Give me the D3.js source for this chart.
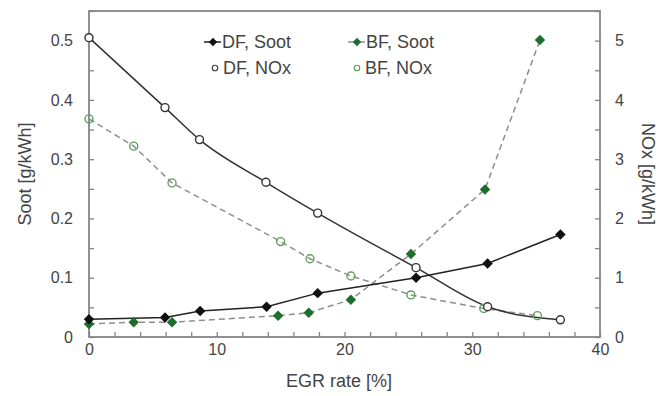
<!DOCTYPE html>
<html>
<head>
<meta charset="utf-8">
<script src="https://cdn.jsdelivr.net/npm/d3@7"></script>
<style>
body{margin:0;background:#fff;}
svg text{font-family:"Liberation Sans",Arial,sans-serif;fill:#444;}
</style>
</head>
<body>
<svg id=holder width="671" height="396"></svg>
<script>
// EGR rate [%] vs soot / NOx
var df_soot_x=[0,5.95,8.7,13.9,17.9,25.6,31.2,36.9];
var df_soot_y=[0.030,0.033,0.044,0.051,0.074,0.100,0.124,0.173];
var bf_soot_x=[0,3.5,6.5,14.8,17.2,20.5,25.2,31.0,35.3];
var bf_soot_y=[0.022,0.025,0.025,0.036,0.041,0.063,0.140,0.249,0.501];
var df_nox_x=[0,5.95,8.65,13.85,17.9,25.6,31.2,36.9];
var df_nox_y=[5.05,3.87,3.33,2.61,2.09,1.17,0.51,0.29];
var bf_nox_x=[0,3.5,6.5,15.0,17.3,20.5,25.2,30.9,35.1];
var bf_nox_y=[3.68,3.22,2.60,1.61,1.32,1.03,0.71,0.48,0.36];
var x_ticks=[0,10,20,30,40];
var soot_ticks=[0,0.1,0.2,0.3,0.4,0.5];
var nox_ticks=[0,1,2,3,4,5];

var padding_left=89, padding_right=71, padding_top=11, padding_bottom=59;
var width=671, height=396;
var axis_col='#858585';
var green_dark='#1e6e2e', green_light='#5fa05f', dash_col='#8e8e8e';

var svg=d3.select('#holder');
var xscale=d3.scaleLinear().domain([0,40]).range([padding_left,width-padding_right]);
var ysoot=d3.scaleLinear().domain([0,0.55]).range([height-padding_bottom,padding_top]);
var ynox=d3.scaleLinear().domain([0,5.5]).range([height-padding_bottom,padding_top]);

var gg=svg.append('g');

// frame
gg.append('rect')
    .attr('x',padding_left).attr('y',padding_top)
    .attr('width',width-padding_left-padding_right)
    .attr('height',height-padding_top-padding_bottom)
    .attr('fill','none').attr('stroke',axis_col).attr('stroke-width',1.8);

// minor ticks (inside) + labels
gg.append('g').attr('transform','translate(0,'+(height-padding_bottom)+')')
    .call(d3.axisTop(xscale).ticks(20).tickSize(5).tickFormat(''));
gg.append('g').attr('transform','translate(0,'+(height-padding_bottom)+')')
    .call(d3.axisBottom(xscale).tickValues(x_ticks).tickSize(0).tickPadding(7).tickFormat(d3.format('d')));
gg.append('g').attr('transform','translate('+padding_left+',0)')
    .call(d3.axisRight(ysoot).ticks(11).tickSize(5).tickFormat(''));
gg.append('g').attr('transform','translate('+padding_left+',0)')
    .call(d3.axisLeft(ysoot).tickValues(soot_ticks).tickSize(0).tickPadding(16).tickFormat(function(d){return d===0?'0':d3.format('.1f')(d);}));
gg.append('g').attr('transform','translate('+(width-padding_right)+',0)')
    .call(d3.axisLeft(ynox).ticks(11).tickSize(5).tickFormat(''));
gg.append('g').attr('transform','translate('+(width-padding_right)+',0)')
    .call(d3.axisRight(ynox).tickValues(nox_ticks).tickSize(0).tickPadding(15).tickFormat(d3.format('d')));

svg.selectAll('.domain').remove();
svg.selectAll('.tick line').attr('stroke',axis_col).attr('stroke-width',1.3);
svg.selectAll('.tick text').style('font-size','16px').attr('fill','#444');

// axis titles
gg.append('text').attr('x',339).attr('y',387)
    .attr('text-anchor','middle').style('font-size','18px').text('EGR rate [%]');
gg.append('text').attr('transform','translate(31,'+((padding_top+height-padding_bottom)/2)+') rotate(-90)')
    .attr('text-anchor','middle').style('font-size','18px').text('Soot [g/kWh]');
gg.append('text').attr('transform','translate(642,'+((padding_top+height-padding_bottom)/2)+') rotate(90)')
    .attr('text-anchor','middle').style('font-size','18px').text('NOx [g/kWh]');

function series(xs,ys){return xs.map(function(x,i){return {x:x,y:ys[i]};});}
var df_soot=series(df_soot_x,df_soot_y), bf_soot=series(bf_soot_x,bf_soot_y);
var df_nox=series(df_nox_x,df_nox_y), bf_nox=series(bf_nox_x,bf_nox_y);

function draw_line(data,yscale,stroke,dash,curve){
    var line=d3.line().x(function(d){return xscale(d.x);}).y(function(d){return yscale(d.y);}).curve(curve||d3.curveLinear);
    gg.append('path').attr('d',line(data)).attr('fill','none').attr('stroke',stroke)
        .attr('stroke-width',1.5).attr('stroke-dasharray',dash||null);
}
draw_line(bf_nox,ynox,dash_col,'6,4');
draw_line(bf_soot,ysoot,dash_col,'6,4');
draw_line(df_nox,ynox,'#333',null,d3.curveMonotoneX);
draw_line(df_soot,ysoot,'#222');

// diamond = square turned 45 degrees
var diamond=d3.symbol().type(d3.symbolSquare).size(36);
var circle=d3.symbol().type(d3.symbolCircle).size(50);
function draw_marks(data,yscale,sym,fill,stroke,rot){
    gg.append('g').selectAll('path').data(data).enter().append('path')
        .attr('d',sym)
        .attr('transform',function(d){return 'translate('+xscale(d.x)+','+yscale(d.y)+') rotate('+(rot||0)+')';})
        .attr('fill',fill).attr('stroke',stroke).attr('stroke-width',1.4);
}
draw_marks(bf_nox,ynox,circle,'none',green_light);
draw_marks(df_nox,ynox,circle,'#fff','#333');
draw_marks(bf_soot,ysoot,diamond,green_dark,green_dark,45);
draw_marks(df_soot,ysoot,diamond,'#111','#111',45);

// legend
var legend=[
    {label:'DF, Soot',x:213,y:42,dia:true,fill:'#111',stroke:'#111',line:'#222'},
    {label:'BF, Soot',x:357,y:42,dia:true,fill:green_dark,stroke:green_dark,line:dash_col},
    {label:'DF, NOx',x:215,y:68,dia:false,fill:'none',stroke:'#444',line:null},
    {label:'BF, NOx',x:357,y:68,dia:false,fill:'none',stroke:green_light,line:null}
];
var lg=gg.append('g');
legend.forEach(function(e){
    if(e.line) lg.append('line').attr('x1',e.x-9).attr('x2',e.x+8).attr('y1',e.y).attr('y2',e.y)
        .attr('stroke',e.line).attr('stroke-width',1.5);
    lg.append('path').attr('d',e.dia?d3.symbol().type(d3.symbolSquare).size(22):d3.symbol().type(d3.symbolCircle).size(24))
        .attr('transform','translate('+e.x+','+e.y+')'+(e.dia?' rotate(45)':'')).attr('fill',e.fill).attr('stroke',e.stroke).attr('stroke-width',1.2);
    lg.append('text').attr('x',e.dia?e.x+9:e.x+8).attr('y',e.y+6).style('font-size','18px').attr('fill','#333').text(e.label);
});
</script>
</body>
</html>
